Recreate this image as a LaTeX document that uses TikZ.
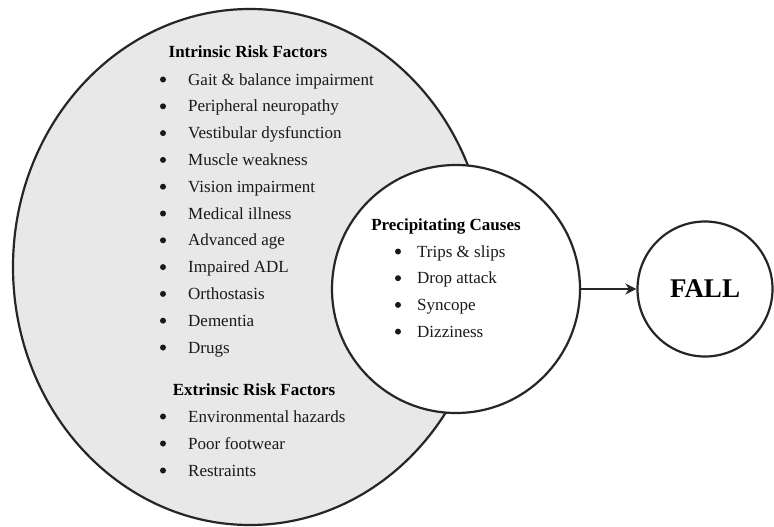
\documentclass[tikz,border=0pt]{standalone}
\usepackage{fontspec}
\setmainfont{Liberation Serif}
\usetikzlibrary{shapes.geometric,arrows.meta}
\begin{document}
\begin{tikzpicture}[x=1pt,y=-1pt,
  heading/.style={font=\fontsize{17}{20}\selectfont\bfseries, inner sep=0pt, anchor=base},
  item/.style={font=\fontsize{17}{20}\selectfont, anchor=base west, inner sep=0pt, text=black!90},
  bul/.style={circle, fill=black!90, inner sep=0pt, minimum size=6pt},
  ring/.style={draw=black!85, line width=2.2pt, inner sep=0pt},
]
\useasboundingbox[fill=white] (0,0) rectangle (774,527);
\node[ring, ellipse, fill=black!9, minimum width=474pt, minimum height=516pt] (risk) at (250,267) {};
\node[ring, circle, fill=white, minimum size=248pt] (pc) at (456,289) {};
\node[ring, circle, fill=white, minimum size=135pt, font=\fontsize{27}{30}\selectfont\bfseries] (fall) at (705,289) {FALL};
\draw[line width=2.4pt, draw=black!85, -{Stealth[length=11pt,width=11pt]}] (pc.east) -- (fall.west);

\node[heading] (intr) at (248,58) {Intrinsic Risk Factors};
\foreach \t [count=\k, evaluate=\k as \yy using 85+26.8*(\k-1)] in
  {Gait \& balance impairment, Peripheral neuropathy, Vestibular dysfunction,
   Muscle weakness, Vision impairment, Medical illness, Advanced age,
   Impaired ADL, Orthostasis, Dementia, Drugs}{
  \node[bul] (ib\k) at (163,\yy-5.5) {};
  \node[item] (i\k) at (188,\yy) {\t};
}

\node[heading] (extr) at (254,395) {Extrinsic Risk Factors};
\foreach \t [count=\k, evaluate=\k as \yy using 422+27*(\k-1)] in
  {Environmental hazards, Poor footwear, Restraints}{
  \node[bul] (eb\k) at (163,\yy-5.5) {};
  \node[item] (e\k) at (188,\yy) {\t};
}

\node[heading] (prec) at (446,230) {Precipitating Causes};
\foreach \t [count=\k, evaluate=\k as \yy using 257+26.7*(\k-1)] in
  {Trips \& slips, Drop attack, Syncope, Dizziness}{
  \node[bul] (pb\k) at (398,\yy-5.5) {};
  \node[item] (p\k) at (417,\yy) {\t};
}
\end{tikzpicture}
\end{document}
